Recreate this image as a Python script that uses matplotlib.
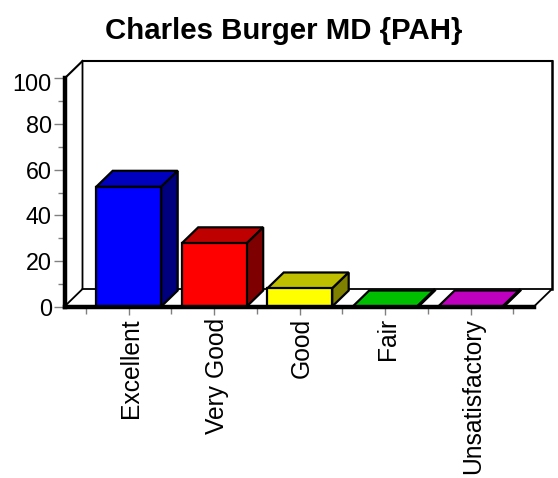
import matplotlib
matplotlib.use('Agg')
import matplotlib.pyplot as plt
from matplotlib.transforms import ScaledTranslation

plt.rcParams['font.family'] = ['Liberation Sans', 'DejaVu Sans']

# --- datos ---
categorias = ['Excellent', 'Very Good', 'Good', 'Fair', 'Unsatisfactory']
valores = [52.5, 27.7, 7.9, 0, 0]
col_frente = ['#0000FF', '#FF0000', '#FFFF00', '#00FF00', '#FF00FF']
col_arriba = ['#0000BF', '#BF0000', '#BFBF00', '#00BF00', '#BF00BF']
col_lado = ['#00007F', '#7F0000', '#7F7F00', '#007F00', '#7F007F']
y_major = [0, 20, 40, 60, 80, 100]
y_minor = [10, 30, 50, 70, 90]
x_minor = [-0.5, 0.5, 1.5, 2.5, 3.5, 4.5]

W, H = 558, 478
# caja frontal en pixeles
X0, X1, Y0, Y100 = 64.5, 534.0, 306.5, 78.5
PX_CAT = 85.5
PX_VAL = (Y0 - Y100) / 100

fig = plt.figure(figsize=(W / 100, H / 100), dpi=100)
ax = fig.add_axes([X0 / W, 1 - Y0 / H, (X1 - X0) / W, (Y0 - Y100) / H])
ax.set_xlim(-(128.7 - X0) / PX_CAT, (X1 - 128.7) / PX_CAT)
ax.set_ylim(0, 100)
ax.patch.set_visible(False)

# profundidad (unidades de datos)
wall_dx = 18 / PX_CAT
wall_dy = 17.5 / PX_VAL
bar_dx = 16.5 / PX_CAT
bar_dy = 16 / PX_VAL
bar_w = 0.76
xa, xb = ax.get_xlim()

# pared del fondo y piso
ax.plot([xa, xa + wall_dx, xa + wall_dx], [0, wall_dy, 100 + wall_dy], color='k', lw=1.3, clip_on=False, zorder=1)
ax.plot([xa + wall_dx, xb + wall_dx], [100 + wall_dy, 100 + wall_dy], color='k', lw=1.5, clip_on=False, zorder=1)
ax.plot([xb + wall_dx, xb + wall_dx], [100 + wall_dy, wall_dy], color='k', lw=1.8, clip_on=False, zorder=1)
ax.plot([xa + wall_dx, xb + wall_dx, xb], [wall_dy, wall_dy, 0], color='k', lw=1.3, clip_on=False, zorder=1)
ax.plot([xa, xa + wall_dx], [100, 100 + wall_dy], color='k', lw=1.5, clip_on=False, zorder=1)

# barras 3D
for i, v in enumerate(valores):
    l, r = i - bar_w / 2, i + bar_w / 2
    ax.fill([l, r, r + bar_dx, l + bar_dx], [v, v, v + bar_dy, v + bar_dy],
            facecolor=col_arriba[i], edgecolor='k', lw=1.6, clip_on=False, zorder=3)
    if v > 0:
        ax.fill([r, r + bar_dx, r + bar_dx, r], [0, bar_dy, v + bar_dy, v],
                facecolor=col_lado[i], edgecolor='k', lw=1.6, clip_on=False, zorder=3)
        ax.bar(i, v, width=bar_w, color=col_frente[i], edgecolor='k', lw=1.6, zorder=4, clip_on=False)
    else:
        ax.plot([r, r + bar_dx], [0, bar_dy], color='k', lw=2.4, clip_on=False, zorder=4)

# ejes
for s in ['top', 'right']:
    ax.spines[s].set_visible(False)
ax.spines['left'].set_linewidth(3.2)
ax.spines['bottom'].set_linewidth(3.2)
ax.spines['left'].set_zorder(6)
ax.spines['bottom'].set_zorder(6)

ax.set_yticks(y_major)
ax.set_yticks(y_minor, minor=True)
ax.tick_params(axis='y', which='major', direction='out', length=8, width=1, color='#808080',
               labelsize=16.8, pad=1)
ax.tick_params(axis='y', which='minor', direction='out', length=5, width=1, color='#808080')
ax.set_xticks(range(len(categorias)))
ax.set_xticklabels(categorias, rotation=90)
ax.set_xticks(x_minor, minor=True)
ax.tick_params(axis='x', which='major', direction='out', length=6, width=1, color='#808080',
               labelsize=17.7, pad=2.2)
ax.tick_params(axis='x', which='minor', direction='out', length=5, width=1, color='#808080')

# pequeños ajustes de posicion de etiquetas
for lab in ax.get_xticklabels():
    lab.set_transform(lab.get_transform() + ScaledTranslation(2.5 / 100, 0, fig.dpi_scale_trans))
lab100 = ax.get_yticklabels()[-1]
lab100.set_transform(lab100.get_transform() + ScaledTranslation(0, -3.5 / 100, fig.dpi_scale_trans))

fig.text(283.5 / W, 1 - 31 / H, 'Charles Burger MD {PAH}', ha='center', va='center',
         fontsize=21.2, fontweight='bold')

fig.savefig('out.png', dpi=100)
